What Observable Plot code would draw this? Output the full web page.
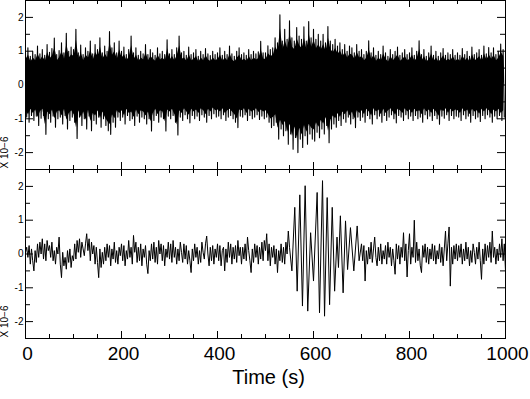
<!DOCTYPE html>
<html><head><meta charset="utf-8">
<script src="https://cdn.jsdelivr.net/npm/d3@7"></script>
<script src="https://cdn.jsdelivr.net/npm/@observablehq/plot@0.6"></script>
<style>body{margin:0;background:#fff}</style>
</head><body><div id="chart"></div>
<script>
// Panels
const panels = ["top", "bottom"];
// Top trace (raw): per 5-s bin upper extreme (at t) and lower extreme (at t+2.5)
const topHi = [
0.95,1.1,0.85,1.0,0.9,1.15,0.92,1.05,0.88,1.2,0.97,1.08,1.39,0.9,1.02,1.25,0.95,1.53,1.0,1.12,
1.05,1.65,0.95,1.18,0.9,1.1,1.0,1.3,0.92,1.2,1.05,1.4,0.95,1.15,1.0,1.58,1.1,1.25,0.95,1.3,
1.0,1.12,0.9,1.05,1.45,0.95,1.1,0.88,1.0,0.92,1.2,0.9,1.05,0.95,0.88,1.1,0.92,1.0,0.9,1.34,
0.92,1.05,0.9,1.1,1.45,0.95,1.0,0.88,1.12,0.9,0.95,1.05,0.85,1.0,0.9,1.08,0.92,0.87,1.0,0.9,
0.95,1.1,0.88,1.0,0.9,1.15,0.92,0.85,1.0,1.1,0.9,0.95,0.88,1.05,0.9,1.0,0.92,0.98,1.29,0.95,
0.95,1.16,1.05,1.1,1.4,1.25,2.08,1.3,1.65,1.35,1.9,1.4,1.3,1.7,1.45,1.35,1.72,1.3,1.88,1.4,
1.65,1.35,1.5,1.3,1.5,1.25,1.73,1.3,1.2,1.35,1.15,1.25,1.05,1.2,1.0,1.15,1.1,0.95,1.2,1.0,
1.05,0.9,1.0,1.31,0.95,1.1,0.88,1.0,0.9,1.15,0.95,0.85,1.05,0.9,1.0,1.12,0.88,0.95,1.05,0.9,
0.95,1.1,0.88,1.0,1.31,0.9,1.05,0.85,0.95,1.15,0.88,1.0,0.85,0.95,1.08,0.88,0.95,0.9,1.05,0.88,
0.95,0.88,1.08,0.9,1.0,0.85,1.12,0.9,0.95,1.05,0.88,1.15,0.92,1.11,0.95,1.1,0.9,1.0,1.21,1.05
];
const topLo = [
-0.95,-1.1,-0.9,-1.05,-0.92,-1.2,-0.98,-0.9,-1.46,-1.0,-1.1,-0.92,-1.25,-1.0,-0.95,-1.15,-0.9,-1.3,-1.05,-0.95,
-1.1,-1.58,-0.95,-1.2,-1.0,-1.3,-0.92,-1.35,-1.05,-1.15,-0.95,-1.25,-1.0,-1.2,-1.35,-1.46,-1.1,-1.25,-0.95,-1.05,
-0.95,-1.15,-0.9,-1.05,-1.0,-1.2,-0.92,-1.1,-0.95,-1.0,-1.15,-1.0,-1.36,-1.05,-0.9,-1.1,-0.95,-1.0,-1.36,-0.92,
-1.0,-0.9,-1.1,-1.48,-0.95,-1.05,-0.88,-1.0,-1.12,-0.9,-1.0,-0.92,-1.05,-0.88,-0.95,-1.1,-0.9,-1.0,-0.85,-0.95,
-0.92,-1.0,-0.88,-1.05,-0.95,-0.9,-1.0,-1.1,-1.26,-0.92,-0.95,-0.88,-1.05,-0.9,-1.0,-0.95,-0.88,-1.02,-0.92,-1.0,
-0.95,-1.1,-1.26,-1.2,-1.1,-1.6,-1.3,-1.5,-1.35,-1.75,-1.45,-1.9,-1.55,-2.0,-1.6,-1.85,-1.5,-1.75,-1.45,-1.6,
-1.66,-1.4,-1.56,-1.3,-1.45,-1.2,-1.71,-1.3,-1.15,-1.25,-1.05,-1.2,-1.0,-1.1,-0.95,-1.15,-1.0,-1.26,-0.95,-1.05,
-0.95,-1.1,-0.9,-1.0,-1.15,-0.88,-1.0,-0.92,-1.1,-0.9,-1.05,-0.95,-0.88,-1.0,-1.12,-0.9,-0.95,-1.05,-0.88,-1.0,
-0.92,-1.05,-0.9,-1.0,-0.95,-1.1,-0.88,-1.0,-0.92,-1.05,-0.9,-1.0,-1.16,-0.92,-0.98,-0.88,-1.05,-0.9,-1.0,-0.92,
-0.95,-1.05,-0.88,-1.0,-0.92,-1.1,-0.9,-1.0,-0.95,-1.08,-0.9,-1.0,-0.88,-0.95,-1.1,-0.92,-1.0,-0.9,-1.05,-0.95
];
// Bottom trace (filtered): 2.5-s samples 0..547.5 s
const noiseA = [
0.05,0.2,-0.1,0.25,-0.3,0.15,-0.2,-0.5,0.1,-0.25,0.3,-0.1,0.35,0.0,0.45,-0.15,0.3,-0.2,0.4,0.1,
0.25,-0.1,0.35,-0.2,0.1,-0.3,0.2,0.0,0.5,-0.3,-0.7,0.05,-0.35,-0.1,-0.45,0.1,-0.25,0.15,-0.4,-0.05,
-0.2,0.3,-0.15,0.4,0.05,0.45,-0.1,0.35,0.15,-0.05,0.3,0.6,0.1,0.45,-0.2,0.35,0.0,0.25,-0.3,0.2,
-0.25,-0.7,0.15,-0.4,0.05,-0.3,0.2,-0.2,0.3,-0.1,0.25,-0.35,0.15,-0.15,0.35,-0.25,0.1,-0.3,0.2,-0.05,
0.3,-0.2,0.25,-0.35,0.1,-0.15,0.4,-0.1,0.2,-0.3,0.55,0.05,0.35,-0.25,0.2,-0.2,0.3,-0.35,0.15,-0.1,
0.25,-0.3,-0.58,0.1,-0.2,0.3,-0.15,0.35,-0.25,0.2,-0.3,0.4,0.0,0.3,-0.2,0.25,-0.35,0.15,-0.1,0.35,
-0.15,0.3,-0.25,0.4,-0.1,0.2,-0.3,0.15,-0.2,0.35,0.05,-0.25,0.3,-0.15,0.25,-0.3,0.1,-0.2,-0.55,0.15,
-0.2,0.3,-0.1,0.2,-0.3,0.1,-0.25,0.35,0.05,-0.15,0.3,0.53,0.0,-0.35,0.2,-0.2,0.25,-0.3,0.15,-0.1,
0.3,-0.2,0.25,-0.35,0.1,0.2,-0.5,0.15,-0.25,0.35,-0.1,0.3,-0.3,0.2,-0.15,0.25,-0.25,0.4,-0.05,0.2,
-0.3,0.2,-0.15,0.3,-0.2,0.5,0.1,-0.2,-0.55,0.15,-0.25,0.3,-0.1,0.25,-0.3,0.2,-0.15,0.35,-0.2,0.4,
0.1,0.6,-0.2,0.3,-0.35,0.2,-0.1,0.25,-0.3,0.15,-0.55,0.1,-0.2,0.3,-0.25,0.2,-0.3,0.35,0.0,0.68
];
// Wave packet extremes (time s, value)
const packT = [550,555,561,566,571.5,577,582.6,588,594,600,607.6,612.5,618.8,623,628.5,633.5,639,644,649,652,656,661.7,666.7,671,677,684,691,695];
const packV = [0.2,-0.5,1.38,-1.1,1.75,-1.54,2.02,-1.69,0.63,-0.8,1.82,-1.74,2.17,-1.84,1.67,-1.5,1.38,-1.1,0.5,-0.4,1.13,-1.15,0.98,-0.46,0.78,-0.5,0.83,-0.2];
// Bottom trace: 2.5-s samples 700..1000 s
const noiseB = [
0.3,-0.2,0.25,-0.8,0.1,-0.3,0.2,-0.15,0.35,-0.25,0.15,0.5,-0.1,-0.35,0.2,-0.2,0.3,-0.3,0.1,-0.15,
0.25,-0.3,0.35,-0.1,0.2,-0.35,0.15,-0.2,-0.6,0.3,-0.15,0.25,-0.3,0.2,-0.1,0.63,-0.2,0.3,-0.68,0.1,
0.6,-0.3,0.2,-0.1,1.0,-0.25,0.35,-0.2,0.15,-0.35,-0.55,0.25,-0.1,0.3,-0.25,0.2,-0.3,0.15,-0.15,0.3,
-0.2,0.25,-0.3,0.1,-0.15,0.3,-0.25,0.2,-0.35,0.15,0.68,-0.2,0.3,0.8,-0.95,0.2,-0.3,0.25,-0.15,0.3,
-0.2,0.25,-0.1,0.3,-0.3,0.15,-0.2,0.35,-0.15,0.2,-0.35,0.1,-0.25,0.3,0.05,-0.3,0.2,-0.15,0.35,-0.2,
-0.75,0.15,-0.3,0.3,-0.2,0.25,-0.1,0.35,-0.25,0.68,-0.1,0.2,-0.3,0.15,-0.2,0.3,-0.1,0.45,-0.2,0.3,
-0.5
];
// Tick values
const xTickLabels = [0, 200, 400, 600, 800, 1000];
const xMajorTicks = [200, 400, 600, 800];
const xMinorTicks = [50,100,150,250,300,350,450,500,550,650,700,750,850,900,950];
const yTickLabels = [-2, -1, 0, 1, 2];
const yMajorTicks = [-2, -1, 0, 1, 2];
const yMinorTicks = [-1.5, -0.5, 0.5, 1.5];
const unitLabel = "X 10\u22126";
const xTitle = "Time (s)";

// Build tables
const topData = [];
topHi.forEach((v, i) => { topData.push({t: i * 5, v}); topData.push({t: i * 5 + 2.5, v: topLo[i]}); });
const topBand = topHi.map((v, i) => ({t: i * 5 + 1.25, hi: v * 0.8, lo: topLo[i] * 0.8}));
const bottomData = [
  ...noiseA.map((v, i) => ({t: i * 2.5, v})),
  ...packT.map((t, i) => ({t, v: packV[i]})),
  ...noiseB.map((v, i) => ({t: 700 + i * 2.5, v}))
].sort((a, b) => a.t - b.t);
const cross = arr => panels.flatMap(p => arr.map(v => ({p, v})));

const W = 530, H = 399, ML = 25, MR = 25, MT = 0, MB = 61;
const PW = W - ML - MR, PH = (H - MT - MB) / 2;

const chart = Plot.plot({
  width: W, height: H,
  marginTop: MT, marginBottom: MB, marginLeft: ML, marginRight: MR,
  style: {fontFamily: "'Liberation Sans', Arial, Helvetica, sans-serif", background: "white", color: "black", overflow: "visible"},
  x: {domain: [0, 1000], axis: null},
  y: {domain: [-2.5, 2.5], axis: null},
  fy: {domain: panels, padding: 0, axis: null},
  marks: [
    Plot.areaY(topBand, {x: "t", y1: "lo", y2: "hi", fy: () => "top", fill: "black", clip: true}),
    Plot.line(topData, {x: "t", y: "v", fy: () => "top", stroke: "black", strokeWidth: 1.1, clip: true}),
    Plot.line(bottomData, {x: "t", y: "v", fy: () => "bottom", stroke: "black", strokeWidth: 1, clip: true}),
    // inward ticks: left & right
    Plot.tickY(cross(yMajorTicks), {y: "v", fy: "p", insetRight: PW - 8, stroke: "black"}),
    Plot.tickY(cross(yMinorTicks), {y: "v", fy: "p", insetRight: PW - 5, stroke: "black"}),
    Plot.tickY(cross(yMajorTicks), {y: "v", fy: "p", insetLeft: PW - 8, stroke: "black"}),
    Plot.tickY(cross(yMinorTicks), {y: "v", fy: "p", insetLeft: PW - 5, stroke: "black"}),
    // inward ticks: top & bottom
    Plot.tickX(cross(xMajorTicks), {x: "v", fy: "p", insetBottom: PH - 7, stroke: "black"}),
    Plot.tickX(cross(xMinorTicks), {x: "v", fy: "p", insetBottom: PH - 4, stroke: "black"}),
    Plot.tickX(cross(xMajorTicks), {x: "v", fy: "p", insetTop: PH - 7, stroke: "black"}),
    Plot.tickX(cross(xMinorTicks), {x: "v", fy: "p", insetTop: PH - 4, stroke: "black"}),
    Plot.frame({stroke: "black"}),
    // y tick labels
    Plot.text(cross(yTickLabels), {y: "v", fy: "p", text: d => String(d.v), frameAnchor: "left", dx: -2, textAnchor: "end", fontSize: 10}),
    // unit labels
    Plot.text(panels, {fy: d => d, text: () => unitLabel, frameAnchor: "bottom-left", rotate: -90, textAnchor: "start", dx: -17.5, dy: -1, fontSize: 10}),
    // x tick labels
    Plot.text(xTickLabels, {x: d => d, fy: () => "bottom", text: d => String(d), frameAnchor: "bottom", dy: 21, dx: 2, fontSize: 19}),
    // x title
    Plot.text([xTitle], {fy: () => "bottom", text: d => d, frameAnchor: "bottom", dx: 3, dy: 45, fontSize: 20})
  ]
});
document.getElementById("chart").appendChild(chart);
</script>
</body></html>
